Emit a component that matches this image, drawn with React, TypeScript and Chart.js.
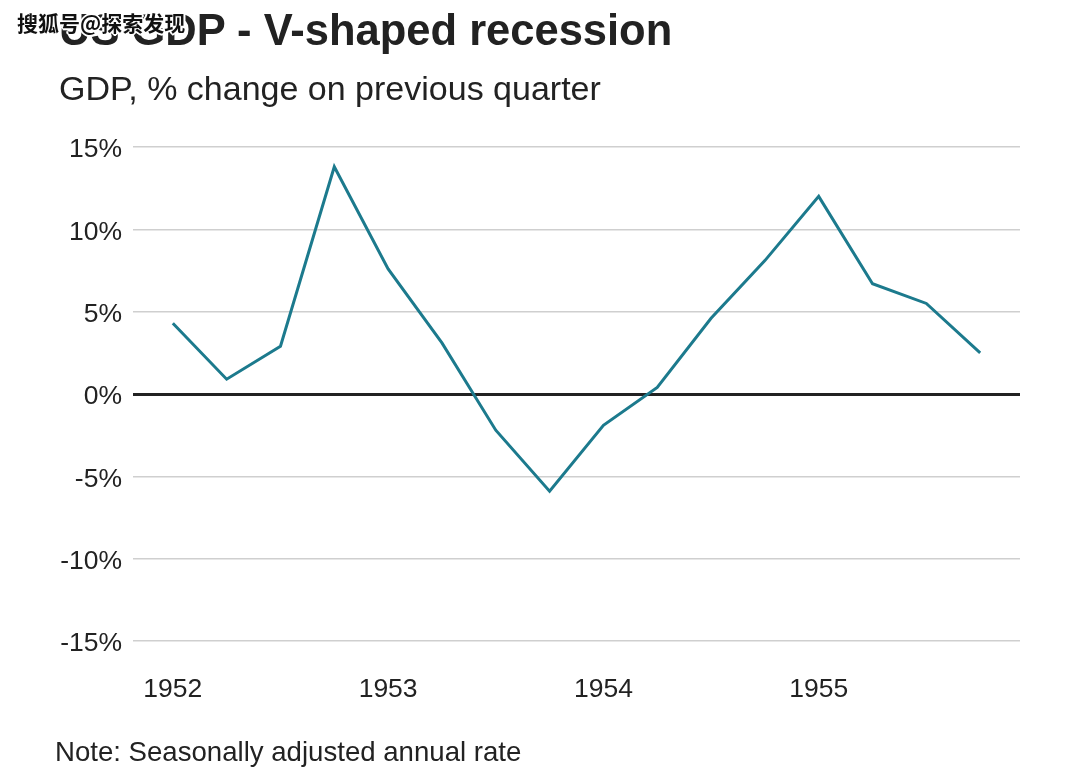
import React, { useEffect, useRef } from "react";
import { Chart, registerables } from "chart.js";

Chart.register(...registerables);

const quarters = [
  "1952 Q1", "1952 Q2", "1952 Q3", "1952 Q4",
  "1953 Q1", "1953 Q2", "1953 Q3", "1953 Q4",
  "1954 Q1", "1954 Q2", "1954 Q3", "1954 Q4",
  "1955 Q1", "1955 Q2", "1955 Q3", "1955 Q4",
];
const gdpChange = [4.3, 0.9, 2.9, 13.8, 7.6, 3.1, -2.2, -5.9, -1.9, 0.4, 4.6, 8.1, 12.0, 6.7, 5.5, 2.5];
const yearLabels = ["1952", "1953", "1954", "1955"];
const yTicks = [15, 10, 5, 0, -5, -10, -15];

const FONT = "'Liberation Sans', Arial, Helvetica, sans-serif";

export default function App() {
  const ref = useRef<HTMLCanvasElement | null>(null);

  useEffect(() => {
    if (!ref.current) return;
    const chart = new Chart(ref.current, {
      type: "line",
      data: {
        datasets: [
          {
            label: "GDP, % change on previous quarter",
            data: gdpChange.map((v, i) => ({ x: i, y: v })),
            borderColor: "#1c7a8d",
            borderWidth: 3,
            pointRadius: 0,
            tension: 0,
            fill: false,
          },
        ],
      },
      options: {
        animation: false,
        responsive: false,
        layout: { padding: { left: 0, top: 147, right: 57, bottom: 0 } },
        plugins: {
          legend: { display: false },
          tooltip: { enabled: false },
          title: { display: false },
        },
        scales: {
          x: {
            type: "linear",
            min: -0.74,
            max: quarters.length - 1 + 0.74,
            grid: { display: false, drawTicks: false },
            border: { display: false },
            afterBuildTicks: (scale: any) => {
              scale.ticks = yearLabels.map((_, i) => ({ value: i * 4 }));
            },
            afterFit: (scale: any) => {
              scale.height = 127;
            },
            ticks: {
              padding: 33,
              color: "#222",
              font: { family: FONT, size: 26.5 },
              maxRotation: 0,
              autoSkip: false,
              callback: (v: any) => yearLabels[Math.round(Number(v) / 4)] ?? "",
            },
          },
          y: {
            min: -15,
            max: 15,
            grid: {
              drawTicks: false,
              color: (ctx: any) => (ctx.tick && ctx.tick.value === 0 ? "#222" : "#cfcfcf"),
              lineWidth: (ctx: any) => (ctx.tick && ctx.tick.value === 0 ? 3 : 1.5),
            },
            border: { display: false },
            afterBuildTicks: (scale: any) => {
              scale.ticks = yTicks.map((v) => ({ value: v }));
            },
            afterFit: (scale: any) => {
              scale.width = 133;
            },
            ticks: {
              padding: 11,
              labelOffset: 3,
              color: "#222",
              font: { family: FONT, size: 26.5 },
              callback: (v: any) => `${v}%`,
            },
          },
        },
      },
    });
    return () => chart.destroy();
  }, []);

  return (
    <div style={{ position: "fixed", left: 0, top: 0, width: 1077, height: 768, background: "#fff", overflow: "hidden" }}>
      <canvas ref={ref} width={1077} height={768} style={{ position: "absolute", left: 0, top: 0, width: 1077, height: 768 }} />
      <div
        style={{
          position: "absolute", left: 59, top: 9, fontFamily: FONT, fontWeight: "bold",
          fontSize: 43.5, lineHeight: "43.5px", color: "#222", whiteSpace: "nowrap",
        }}
      >
        US GDP - V-shaped recession
      </div>
      <div
        style={{
          position: "absolute", left: 17, top: 10, fontFamily: "'Noto Sans CJK SC', sans-serif", fontWeight: "bold",
          fontSize: 21, lineHeight: "24px", color: "#111", whiteSpace: "nowrap",
          textShadow: "1px 1px 0 #fff, -1px -1px 0 #fff, 1px -1px 0 #fff, -1px 1px 0 #fff, 2px 0 0 #fff, -2px 0 0 #fff, 0 2px 0 #fff, 0 -2px 0 #fff",
        }}
      >
        搜狐号@探索发现
      </div>
      <div
        style={{
          position: "absolute", left: 59, top: 71, fontFamily: FONT,
          fontSize: 34, lineHeight: "34px", color: "#222", whiteSpace: "nowrap",
        }}
      >
        GDP, % change on previous quarter
      </div>
      <div
        style={{
          position: "absolute", left: 55, top: 738, fontFamily: FONT,
          fontSize: 27.6, lineHeight: "27.6px", color: "#222", whiteSpace: "nowrap",
        }}
      >
        Note: Seasonally adjusted annual rate
      </div>
    </div>
  );
}
